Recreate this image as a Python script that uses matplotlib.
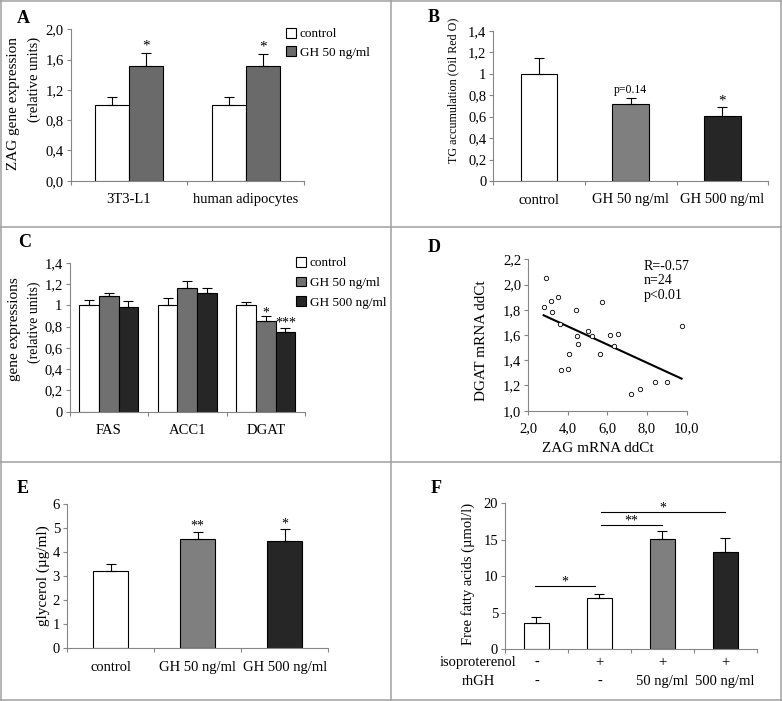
import numpy as np
import matplotlib
matplotlib.use('Agg')
import matplotlib.pyplot as plt
from matplotlib.lines import Line2D
from matplotlib.patches import Patch
from matplotlib.transforms import blended_transform_factory

plt.rcParams['font.family'] = ['Liberation Serif', 'DejaVu Serif']

W, H = 782, 701

# ---------------- data ----------------
a_categories = ['3T3-L1', 'human adipocytes']
a_series = ['control', 'GH 50 ng/ml']
a_control = [1.0, 1.0]
a_control_err = [0.10, 0.10]
a_gh50 = [1.51, 1.52]
a_gh50_err = [0.18, 0.16]
a_gh50_sig = ['*', '*']
a_yticks = [0.0, 0.4, 0.8, 1.2, 1.6, 2.0]
a_yticklabels = ['0,0', '0,4', '0,8', '1,2', '1,6', '2,0']

b_categories = ['control', 'GH 50 ng/ml', 'GH 500 ng/ml']
b_values = [1.0, 0.715, 0.607]
b_err = [0.145, 0.055, 0.08]
b_sig = ['', 'p=0.14', '*']
b_yticks = [0, 0.2, 0.4, 0.6, 0.8, 1.0, 1.2, 1.4]
b_yticklabels = ['0', '0,2', '0,4', '0,6', '0,8', '1', '1,2', '1,4']

c_categories = ['FAS', 'ACC1', 'DGAT']
c_series = ['control', 'GH 50 ng/ml', 'GH 500 ng/ml']
c_control = [1.0, 1.0, 1.0]
c_control_err = [0.05, 0.065, 0.03]
c_gh50 = [1.09, 1.165, 0.855]
c_gh50_err = [0.03, 0.06, 0.04]
c_gh500 = [0.98, 1.12, 0.745]
c_gh500_err = [0.06, 0.045, 0.04]
c_gh50_sig = ['', '', '*']
c_gh500_sig = ['', '', '***']
c_yticks = b_yticks
c_yticklabels = b_yticklabels

d_zag = [2.79, 2.92, 3.17, 3.19, 3.51, 3.64, 3.69, 4.01, 4.08, 4.41, 4.48, 4.51,
         5.05, 5.21, 5.65, 5.72, 6.13, 6.32, 6.55, 7.22, 7.67, 8.41, 9.03, 9.75]
d_dgat = [1.82, 2.05, 1.87, 1.78, 1.90, 1.69, 1.32, 1.33, 1.45, 1.80, 1.59, 1.53,
          1.63, 1.59, 1.45, 1.86, 1.60, 1.51, 1.61, 1.13, 1.17, 1.23, 1.23, 1.67]
d_stats = ['R=-0.57', 'n=24', 'p<0.01']
d_xticks = [2, 4, 6, 8, 10]
d_xticklabels = ['2,0', '4,0', '6,0', '8,0', '10,0']
d_yticks = [1.0, 1.2, 1.4, 1.6, 1.8, 2.0, 2.2]
d_yticklabels = ['1,0', '1,2', '1,4', '1,6', '1,8', '2,0', '2,2']

e_categories = ['control', 'GH 50 ng/ml', 'GH 500 ng/ml']
e_values = [3.21, 4.53, 4.475]
e_err = [0.28, 0.32, 0.485]
e_sig = ['', '**', '*']
e_yticks = [0, 1, 2, 3, 4, 5, 6]

f_isoproterenol = ['-', '+', '+', '+']
f_rhgh = ['-', '-', '50 ng/ml', '500 ng/ml']
f_values = [3.56, 7.08, 15.07, 13.29]
f_err = [0.8, 0.45, 1.2, 1.96]
f_yticks = [0, 5, 10, 15, 20]
f_bracket_from = [-0.03, 1.02, 1.02]
f_bracket_to = [0.93, 1.99, 3.0]
f_bracket_y = [8.7, 17.0, 18.8]
f_bracket_sig = ['*', '**', '*']

# ---------------- styling ----------------
WHITE = 'white'
A_GRAY = '#6a6a6a'
MID = '#7f7f7f'
C_MID = '#707070'
DARK = '#262626'
AXC = '#868686'

fig = plt.figure(figsize=(W / 100, H / 100), dpi=100)


def px_axes(x0, x1, ytop, ybot):
    return fig.add_axes([x0 / W, 1 - ybot / H, (x1 - x0) / W, (ybot - ytop) / H])


def base_style(ax, ysize=10.5):
    for s in ['top', 'right']:
        ax.spines[s].set_visible(False)
    for s in ['left', 'bottom']:
        ax.spines[s].set_color(AXC)
        ax.spines[s].set_linewidth(0.8)
    ax.tick_params(axis='y', direction='out', length=3, width=0.8, color=AXC,
                   pad=2, labelsize=ysize)
    ax.set_facecolor('none')


def cat_axis(ax, cats, size=10.5, pad=9):
    n = len(cats)
    ax.set_xlim(-0.5, n - 0.5)
    ax.set_xticks(range(n))
    ax.set_xticklabels(cats)
    ax.tick_params(axis='x', which='major', length=0, pad=pad, labelsize=size)
    ax.set_xticks(np.arange(n + 1) - 0.5, minor=True)
    ax.tick_params(axis='x', which='minor', direction='out', length=3, width=0.8, color=AXC)


def bars(ax, x, vals, errs, color, width):
    ax.bar(x, vals, width, color=color, edgecolor='black', linewidth=0.8, zorder=2)
    ax.errorbar(x, vals, yerr=[np.zeros(len(vals)), errs], fmt='none', ecolor='black',
                elinewidth=0.8, capsize=3.5, capthick=0.8, zorder=3)


def sig(ax, x, vals, errs, labels, size=10, off=1):
    for xi, v, e, t in zip(x, vals, errs, labels):
        if t:
            ax.annotate(t, xy=(xi, v + e), xytext=(0, off), textcoords='offset points',
                        ha='center', va='bottom', fontsize=size)


def letter(x, y, t):
    fig.text(x / W, 1 - y / H, t, fontsize=13, fontweight='bold', ha='left', va='baseline')


def ylab(x, y, t, size=11):
    fig.text(x / W, 1 - y / H, t, rotation=90, ha='center', va='center', fontsize=size)


# ---------------- panel A ----------------
axA = px_axes(70.7, 304, 29.3, 180.7)
base_style(axA)
cat_axis(axA, a_categories, size=10.5, pad=9)
xa = np.arange(len(a_categories))
bw = 0.29
bars(axA, xa - bw / 2, a_control, a_control_err, WHITE, bw)
bars(axA, xa + bw / 2, a_gh50, a_gh50_err, A_GRAY, bw)
sig(axA, xa + bw / 2, a_gh50, a_gh50_err, a_gh50_sig, size=11, off=0)
axA.set_ylim(0, 2.0)
axA.set_yticks(a_yticks)
axA.set_yticklabels(a_yticklabels)
axA.legend(handles=[Patch(facecolor=WHITE, edgecolor='black', lw=0.8),
                    Patch(facecolor=A_GRAY, edgecolor='black', lw=0.8)],
           labels=a_series, loc='upper left', bbox_to_anchor=(286 / W, 1 - 28 / H),
           bbox_transform=fig.transFigure, frameon=False, fontsize=9.5,
           handlelength=0.75, handleheight=0.75, handletextpad=0.3,
           labelspacing=0.45, borderpad=0, borderaxespad=0)
letter(17, 23, 'A')
ylab(14, 104, 'ZAG gene expression', 11)
ylab(34, 79, '(relative units)', 10.5)

# ---------------- panel B ----------------
axB = px_axes(493.3, 768.3, 30.7, 181)
base_style(axB)
cat_axis(axB, b_categories, size=10.5, pad=9)
xb = np.arange(len(b_categories))
bars(axB, xb, b_values, b_err, [WHITE, MID, DARK], 0.4)
for xi, v, e, t in zip(xb, b_values, b_err, b_sig):
    if t:
        axB.annotate(t, xy=(xi, v + e), xytext=(0, 2 if t != '*' else 0),
                     textcoords='offset points', ha='center', va='bottom',
                     fontsize=8.5 if t != '*' else 11)
axB.set_ylim(0, 1.4)
axB.set_yticks(b_yticks)
axB.set_yticklabels(b_yticklabels)
letter(428, 22, 'B')
ylab(453, 90, 'TG accumulation (Oil Red O)', 8.7)

# ---------------- panel C ----------------
axC = px_axes(69.5, 305, 262.7, 411.7)
base_style(axC)
cat_axis(axC, c_categories, size=10.5, pad=9)
xc = np.arange(len(c_categories))
cw = 0.25
bars(axC, xc - cw, c_control, c_control_err, WHITE, cw)
bars(axC, xc, c_gh50, c_gh50_err, C_MID, cw)
bars(axC, xc + cw, c_gh500, c_gh500_err, DARK, cw)
sig(axC, xc, c_gh50, c_gh50_err, c_gh50_sig, size=10, off=-2)
sig(axC, xc + cw, c_gh500, c_gh500_err, c_gh500_sig, size=10, off=-1)
axC.set_ylim(0, 1.4)
axC.set_yticks(c_yticks)
axC.set_yticklabels(c_yticklabels)
axC.legend(handles=[Patch(facecolor=WHITE, edgecolor='black', lw=0.8),
                    Patch(facecolor=C_MID, edgecolor='black', lw=0.8),
                    Patch(facecolor=DARK, edgecolor='black', lw=0.8)],
           labels=c_series, loc='upper left', bbox_to_anchor=(296 / W, 1 - 257 / H),
           bbox_transform=fig.transFigure, frameon=False, fontsize=9.5,
           handlelength=0.75, handleheight=0.75, handletextpad=0.3,
           labelspacing=0.55, borderpad=0, borderaxespad=0)
letter(18, 247, 'C')
ylab(15, 329, 'gene expressions', 11)
ylab(34, 322, '(relative units)', 10)

# ---------------- panel D ----------------
axD = px_axes(528, 686.5, 259.3, 410.7)
base_style(axD)
axD.scatter(d_zag, d_dgat, s=10, facecolors='white', edgecolors='black', linewidths=0.6, zorder=3)
coef = np.polyfit(d_zag, d_dgat, 1)
xs = np.array([min(d_zag), max(d_zag)])
axD.plot(xs, np.polyval(coef, xs), color='black', lw=1.5, zorder=2)
axD.set_xlim(2, 10)
axD.set_ylim(1.0, 2.2)
axD.set_xticks(d_xticks)
axD.set_xticklabels(d_xticklabels)
axD.set_yticks(d_yticks)
axD.set_yticklabels(d_yticklabels)
axD.tick_params(axis='x', direction='out', length=3, width=0.8, color=AXC, pad=5, labelsize=10.5)
for i, t in enumerate(d_stats):
    fig.text(644 / W, 1 - (267 + 14 * i) / H, t, ha='left', va='center', fontsize=10)
letter(428, 252, 'D')
ylab(482, 341, 'DGAT mRNA ddCt', 11)
fig.text(598 / W, 1 - 448 / H, 'ZAG mRNA ddCt', ha='center', va='center', fontsize=11)

# ---------------- panel E ----------------
axE = px_axes(67, 328.3, 504, 648.3)
base_style(axE)
cat_axis(axE, e_categories, size=10.5, pad=9)
xe = np.arange(len(e_categories))
bars(axE, xe, e_values, e_err, [WHITE, MID, DARK], 0.4)
sig(axE, xe, e_values, e_err, e_sig, size=10, off=-1)
axE.set_ylim(0, 6)
axE.set_yticks(e_yticks)
letter(17, 493, 'E')
ylab(43, 576, 'glycerol (µg/ml)', 11)

# ---------------- panel F ----------------
axF = px_axes(505, 756.7, 503.3, 649.3)
base_style(axF)
n = len(f_values)
axF.set_xlim(-0.5, n - 0.5)
axF.set_xticks([])
axF.set_xticks(np.arange(n + 1) - 0.5, minor=True)
axF.tick_params(axis='x', which='minor', direction='out', length=3, width=0.8, color=AXC)
xf = np.arange(n)
bars(axF, xf, f_values, f_err, [WHITE, WHITE, MID, DARK], 0.4)
for x0, x1, y, t in zip(f_bracket_from, f_bracket_to, f_bracket_y, f_bracket_sig):
    axF.plot([x0, x1], [y, y], color='black', lw=0.8, zorder=3)
    axF.annotate(t, xy=((x0 + x1) / 2, y), xytext=(0, -2), textcoords='offset points',
                 ha='center', va='bottom', fontsize=10)
axF.set_ylim(0, 20)
axF.set_yticks(f_yticks)
tr = blended_transform_factory(axF.transData, axF.transAxes)
for i, t in enumerate(f_isoproterenol):
    axF.text(i, -0.092, t, transform=tr, ha='center', va='center', fontsize=10.5)
for i, t in enumerate(f_rhgh):
    axF.text(i, -0.222, t, transform=tr, ha='center', va='center', fontsize=10.5)
axF.text(-0.93, -0.092, 'isoproterenol', transform=tr, ha='center', va='center', fontsize=10.5)
axF.text(-0.93, -0.222, 'rhGH', transform=tr, ha='center', va='center', fontsize=10.5)
letter(431, 493, 'F')
ylab(468, 574, 'Free fatty acids (µmol/l)', 10.5)

# ---------------- panel borders ----------------
BC = '#a0a0a0'
def hline(y, x0=0, x1=W):
    fig.add_artist(Line2D([x0 / W, x1 / W], [1 - y / H, 1 - y / H], color=BC, lw=1.1,
                          transform=fig.transFigure))
def vline(x, y0=0, y1=H):
    fig.add_artist(Line2D([x / W, x / W], [1 - y0 / H, 1 - y1 / H], color=BC, lw=1.1,
                          transform=fig.transFigure))
hline(0.6); hline(H - 0.8); vline(0.6); vline(W - 0.8)
vline(390.5)
hline(227)
hline(462)

fig.savefig('out.png', dpi=100)
